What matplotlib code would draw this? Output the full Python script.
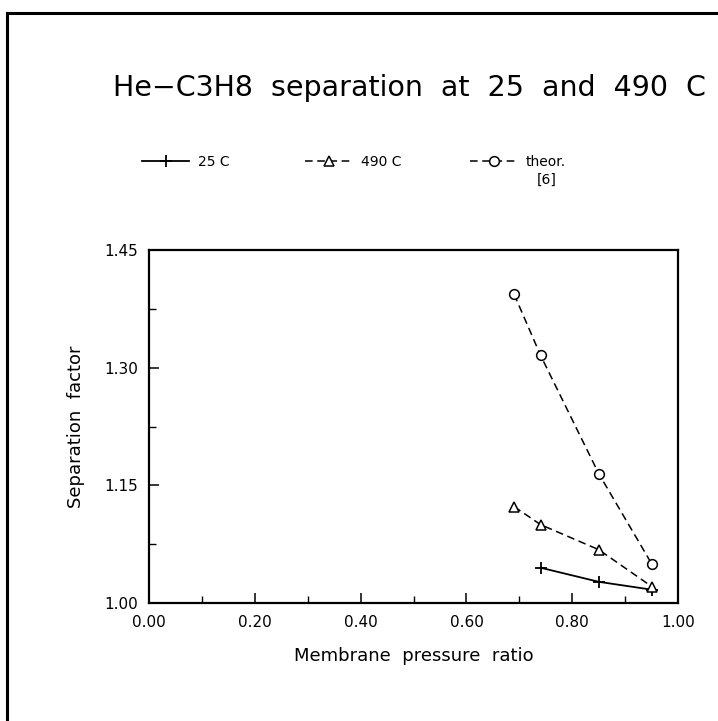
import matplotlib
matplotlib.use("Agg")
import matplotlib.pyplot as plt
from matplotlib.lines import Line2D
from matplotlib.ticker import FixedLocator, MultipleLocator, FormatStrFormatter

# Datos
x_25 = [0.74, 0.85, 0.95]
y_25 = [1.045, 1.027, 1.017]

x_490 = [0.69, 0.74, 0.85, 0.95]
y_490 = [1.123, 1.100, 1.068, 1.021]

x_theor = [0.69, 0.74, 0.85, 0.95]
y_theor = [1.394, 1.316, 1.165, 1.050]

y_ticks = [1.00, 1.15, 1.30, 1.45]
y_minor = [1.075, 1.225, 1.375]

plt.rcParams['font.family'] = ['DejaVu Sans']

fig = plt.figure(figsize=(7.18, 7.21), dpi=100)
ax = fig.add_axes([0.2075, 0.1637, 0.737, 0.489])

l1, = ax.plot(x_25, y_25, color='black', lw=1.3, marker='+', ms=9, mew=1.3)
l2, = ax.plot(x_490, y_490, color='black', lw=1.1, ls=(0, (5, 3)), marker='^', ms=7,
              mfc='white', mew=1.1)
l3, = ax.plot(x_theor, y_theor, color='black', lw=1.1, ls=(0, (5, 3)), marker='o', ms=7,
              mfc='white', mew=1.1)

ax.set_xlim(0, 1.0)
ax.set_ylim(1.0, 1.45)
ax.xaxis.set_major_locator(MultipleLocator(0.2))
ax.xaxis.set_minor_locator(MultipleLocator(0.1))
ax.yaxis.set_major_locator(FixedLocator(y_ticks))
ax.yaxis.set_minor_locator(FixedLocator(y_minor))
ax.xaxis.set_major_formatter(FormatStrFormatter('%.2f'))
ax.yaxis.set_major_formatter(FormatStrFormatter('%.2f'))
ax.tick_params(which='both', direction='in', top=False, right=False, labelsize=11)
ax.tick_params(which='major', length=7, width=1.1, pad=9)
ax.tick_params(which='minor', length=5, width=1.0)
ax.tick_params(axis='y', pad=8)
for s in ax.spines.values():
    s.set_linewidth(1.6)

ax.set_xlabel('Membrane  pressure  ratio', fontsize=13, labelpad=12)
ax.set_ylabel('Separation  factor', fontsize=13, labelpad=14)

fig.text(0.57, 0.878, 'He\u2212C3H8  separation  at  25  and  490  C',
         ha='center', va='center', fontsize=20.5)

# Leyenda: tres entradas colocadas por separado
legend_items = [(l1, '25 C', 0.19), (l2, '490 C', 0.417), (l3, 'theor.', 0.647)]
for handle, label, xpos in legend_items:
    fig.legend([handle], [label], loc='center left', bbox_to_anchor=(xpos, 0.775),
               frameon=False, fontsize=10, handlelength=3.4, handletextpad=0.6,
               borderaxespad=0)
fig.text(0.748, 0.750, '[6]', fontsize=10, ha='left', va='center')

# Marco exterior de la figura
fig.add_artist(Line2D([0.0098, 0.0098], [0.0, 0.982], color='black', lw=2.2))
fig.add_artist(Line2D([0.0098, 1.0], [0.982, 0.982], color='black', lw=2.2))

fig.savefig('out.png', dpi=100)
